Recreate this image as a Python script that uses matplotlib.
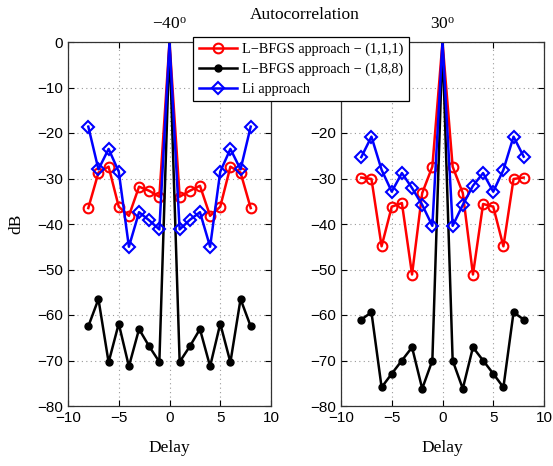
import matplotlib
matplotlib.use("Agg")
import matplotlib.pyplot as plt
import numpy as np

delay = [-8, -7, -6, -5, -4, -3, -2, -1, 0, 1, 2, 3, 4, 5, 6, 7, 8]

# -40 degrees
red_m40 = [-36.5, -28.7, -27.4, -36.2, -38.2, -31.8, -32.7, -34.0, 0,
           -34.0, -32.7, -31.6, -38.2, -36.2, -27.4, -28.7, -36.5]
black_m40 = [-62.5, -56.5, -70.4, -61.9, -71.3, -63.1, -66.9, -70.3, 0,
             -70.3, -66.9, -63.1, -71.3, -61.9, -70.4, -56.5, -62.5]
blue_m40 = [-18.6, -28.0, -23.5, -28.5, -45.0, -37.4, -39.2, -41.2, 0,
            -41.2, -39.1, -37.4, -45.0, -28.5, -23.5, -28.0, -18.6]

# 30 degrees
red_30 = [-29.8, -30.1, -44.9, -36.2, -35.4, -51.1, -33.2, -27.4, 0,
          -27.4, -33.2, -51.1, -35.6, -36.2, -44.9, -30.1, -29.8]
black_30 = [-61.0, -59.4, -75.9, -72.9, -70.0, -67.1, -76.2, -70.0, 0,
            -70.0, -76.2, -67.1, -70.0, -72.9, -75.9, -59.4, -61.0]
blue_30 = [-25.3, -20.8, -28.1, -32.9, -28.8, -32.1, -35.8, -40.4, 0,
           -40.4, -35.8, -31.6, -28.8, -32.9, -28.1, -20.8, -25.2]

titles = ["\u221240$^{\\mathrm{o}}$", "30$^{\\mathrm{o}}$"]
labels = ["L\u2212BFGS approach \u2212 (1,1,1)",
          "L\u2212BFGS approach \u2212 (1,8,8)",
          "Li approach"]
xticks = [-10, -5, 0, 5, 10]
yticks = [0, -10, -20, -30, -40, -50, -60, -70, -80]

plt.rcParams['mathtext.fontset'] = 'custom'
plt.rcParams['mathtext.rm'] = 'Liberation Serif'
plt.rcParams['mathtext.it'] = 'Liberation Serif:italic'

serif = 'Liberation Serif'
sans = 'Liberation Sans'

W, H = 553, 466
fig = plt.figure(figsize=(W / 100, H / 100), dpi=100)

ax_rects = [
    (68 / W, (H - 406) / H, (271 - 68) / W, (406 - 42) / H),
    (341 / W, (H - 406) / H, (544 - 341) / W, (406 - 42) / H),
]
data = [(red_m40, black_m40, blue_m40), (red_30, black_30, blue_30)]

# markers on every sample except the zero-delay peak at the top edge
mk = [j for j, d in enumerate(delay) if d != 0]

handles = None
for i, rect in enumerate(ax_rects):
    ax = fig.add_axes(rect)
    r, k, b = data[i]
    h1, = ax.plot(delay, r, color='#ff0000', lw=1.8, marker='o', ms=7,
                  mfc='none', mec='#ff0000', mew=1.5, markevery=mk)
    h2, = ax.plot(delay, k, color='black', lw=1.8, marker='o', ms=5,
                  mfc='black', mec='black', markevery=mk)
    h3, = ax.plot(delay, b, color='#0000ff', lw=1.8, marker='D', ms=6,
                  mfc='none', mec='#0000ff', mew=1.5, markevery=mk)
    handles = [h1, h2, h3]
    ax.set_xlim(-10, 10)
    ax.set_ylim(-80, 0)
    ax.set_xticks(xticks)
    ax.set_yticks(yticks)
    ax.grid(True, linestyle=(0, (1, 3)), color='#999999', lw=0.8)
    ax.tick_params(direction='in', top=True, right=True, length=4,
                   labelsize=11)
    for lab in ax.get_xticklabels() + ax.get_yticklabels():
        lab.set_fontfamily(sans)
    for sp in ax.spines.values():
        sp.set_linewidth(0.9)
        sp.set_color('#333333')
    ax.set_xlabel("Delay", fontsize=12.5, family=serif, labelpad=11)
    ax.set_title(titles[i], fontsize=12.5, family=serif, pad=10)
    if i == 0:
        ax.set_ylabel("dB", fontsize=12.5, family=serif, labelpad=9)

fig.text(305 / W, 1 - 7 / H, "Autocorrelation", ha='center', va='top',
         fontsize=12.5, family=serif)

leg = fig.legend(handles, labels, loc='upper left',
                 bbox_to_anchor=(193 / W, 1 - 37 / H), borderaxespad=0,
                 prop={'family': serif, 'size': 10.3}, numpoints=1,
                 fancybox=False, edgecolor='black', framealpha=1,
                 handlelength=2.7, handletextpad=0.3, labelspacing=0.45,
                 borderpad=0.4)
leg.get_frame().set_linewidth(0.9)
for lh in leg.legend_handles:
    lh.set_markevery([1])

fig.savefig("out.png", dpi=100)
